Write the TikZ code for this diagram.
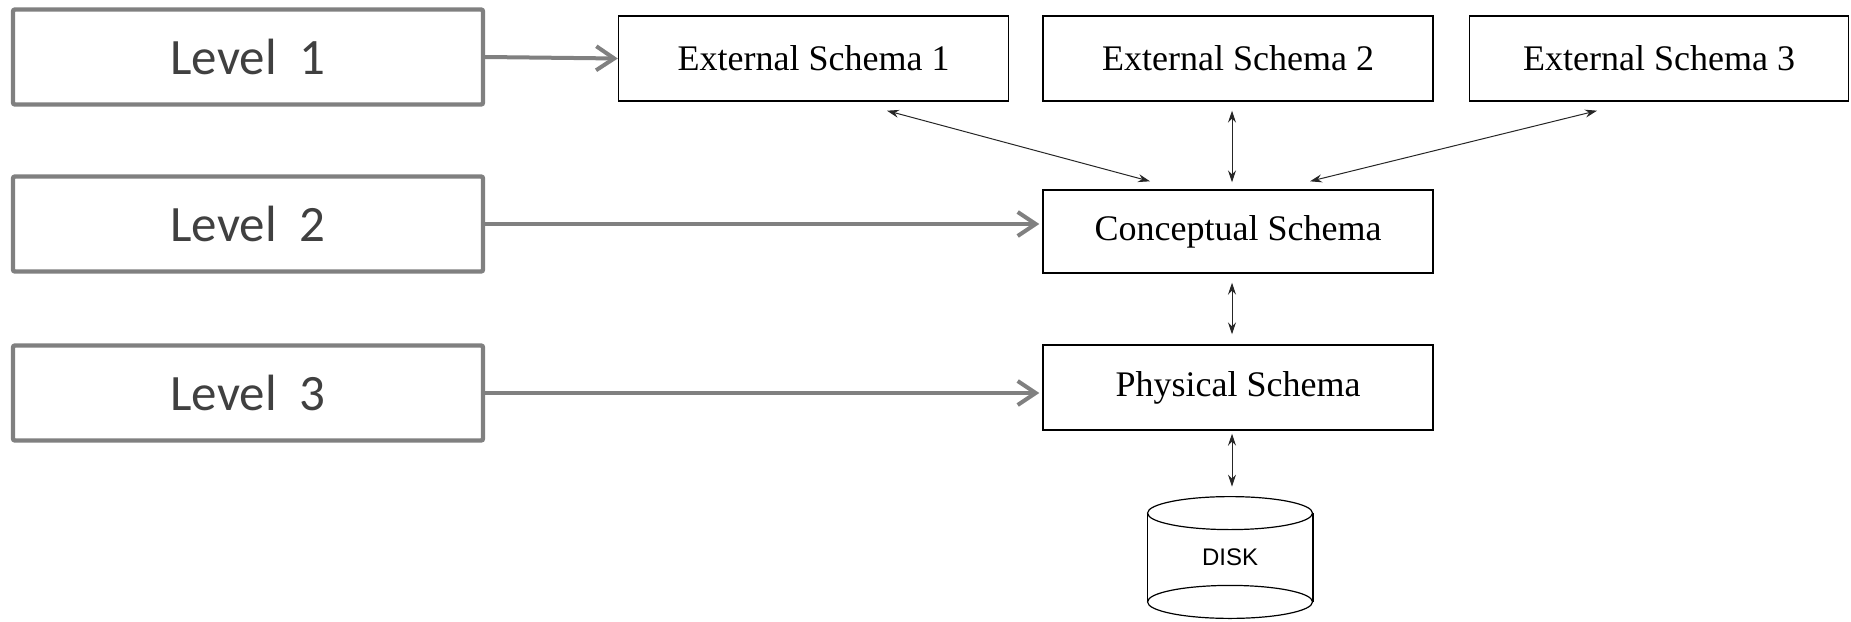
\documentclass[tikz,border=0pt]{standalone}
\usepackage{fontspec}
\setmainfont{Liberation Serif}
\newfontfamily\levelfont{Carlito}
\newfontfamily\diskfont{Liberation Sans}
\usetikzlibrary{calc, arrows.meta, positioning}
\definecolor{levelgray}{HTML}{808080}
\definecolor{leveltext}{HTML}{404040}

\tikzset{
    levelbox/.style={draw=levelgray, line width=2.2pt, rounded corners=1pt,
        minimum width=235pt, minimum height=47.5pt, inner sep=0pt,
        font=\levelfont\fontsize{25.5}{30}\selectfont, text=leveltext},
    schemabox/.style={draw, line width=0.7pt, minimum width=195pt,
        minimum height=42.5pt, inner sep=0pt, font=\fontsize{18}{22}\selectfont},
    levelarrow/.style={draw=levelgray, line width=2pt,
        -{Straight Barb[length=9pt, width=12pt, line width=2pt]}},
    dblarrow/.style={line width=0.5pt, color=black!85,
        {Stealth[length=6pt, width=4pt, inset=2pt]}-{Stealth[length=6pt, width=4pt, inset=2pt]}}
}

\begin{document}
\begin{tikzpicture}[x=0.5pt, y=-0.5pt]
    \useasboundingbox (0,0) rectangle (1851,621);

    % Levels on the left
    \node[levelbox] (lvlA) at (248,57) {Level\ \ 1};
    \node[levelbox] (lvlB) at (248,224) {Level\ \ 2};
    \node[levelbox] (lvlC) at (248,393) {Level\ \ 3};

    % Schemas
    \node[schemabox] (extA) at (813.5,58.5) {External Schema 1};
    \node[schemabox] (extB) at (1238,58.5) {External Schema 2};
    \node[schemabox, minimum width=189.5pt] (extC) at (1659,58.5) {External Schema 3};
    \node[schemabox, minimum height=41.5pt] (concept) at (1238,231.5) {Conceptual Schema};
    \node[schemabox] (phys) at (1238,387.5) {Physical Schema};

    % Disk
    \node[minimum width=82.5pt, minimum height=60.5pt, inner sep=0pt,
        font=\diskfont\fontsize{12}{14}\selectfont] (disk) at (1230,557.5) {DISK};
    \draw[line width=0.6pt] ([yshift=-8.25pt]disk.north) ellipse [x radius=41.25pt, y radius=8.25pt];
    \draw[line width=0.6pt] ([yshift=8.25pt]disk.south) ellipse [x radius=41.25pt, y radius=8.25pt];
    \draw[line width=0.6pt] ([yshift=-8.25pt]disk.north west) -- ([yshift=8.25pt]disk.south west);
    \draw[line width=0.6pt] ([yshift=-8.25pt]disk.north east) -- ([yshift=8.25pt]disk.south east);

    % Level arrows
    \draw[levelarrow] (lvlA.east) -- (extA.west);
    \draw[levelarrow] (lvlB.east) -- ([xshift=-1.5pt]lvlB.east -| concept.west);
    \draw[levelarrow] (lvlC.east) -- ([xshift=-1.5pt]lvlC.east -| phys.west);

    % Mappings between schemas
    \draw[dblarrow] ([xshift=36.75pt, yshift=-4.5pt]extA.south) -- ([xshift=-44pt, yshift=4pt]concept.north);
    \draw[dblarrow] ([xshift=-3pt, yshift=-4.5pt]extB.south) -- ([xshift=-3pt, yshift=3.5pt]concept.north);
    \draw[dblarrow] ([xshift=-31pt, yshift=-4.5pt]extC.south) -- ([xshift=36pt, yshift=4pt]concept.north);
    \draw[dblarrow] ([xshift=-3pt, yshift=-4.5pt]concept.south) -- ([xshift=-3pt, yshift=5pt]phys.north);
    \draw[dblarrow] ([xshift=-3pt, yshift=-1.5pt]phys.south) -- ([xshift=1pt, yshift=5pt]disk.north);
\end{tikzpicture}
\end{document}
